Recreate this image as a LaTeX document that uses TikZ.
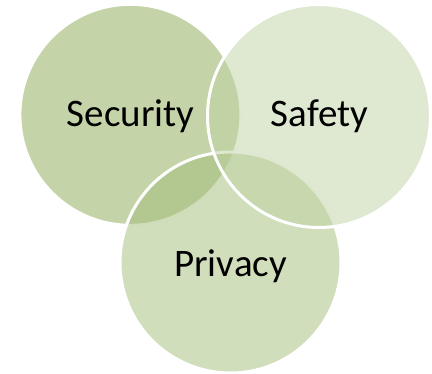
\documentclass[tikz,border=0pt]{standalone}
\usepackage{fontspec}
\setmainfont{Carlito}
\definecolor{secC}{RGB}{137,169,81}
\definecolor{priC}{RGB}{161,189,121}
\definecolor{safC}{RGB}{191,209,161}
\tikzset{
  venn/.style={circle, inner sep=0pt, fill opacity=0.5, draw=white, draw opacity=1, line width=3pt},
  lbl/.style={anchor=base, inner sep=0pt, font=\fontsize{39}{46}\selectfont, text=black}
}
\begin{document}
\begin{tikzpicture}[x=1pt,y=-1pt]
\useasboundingbox (0,0) rectangle (432,373);
\node[venn, fill=secC, minimum size=221pt] (security) at (130.4,114.8) {};
\node[venn, fill=priC, minimum size=221pt] (privacy) at (230.5,262.5) {};
\node[venn, fill=safC, minimum size=223pt] (safety) at (319,116) {};
\node[lbl] (tsec) at (130.5,126) {Security};
\node[lbl] (tsaf) at (319.5,126) {Safety};
\node[lbl] (tpri) at (230.5,276.5) {Privacy};
\end{tikzpicture}
\end{document}
